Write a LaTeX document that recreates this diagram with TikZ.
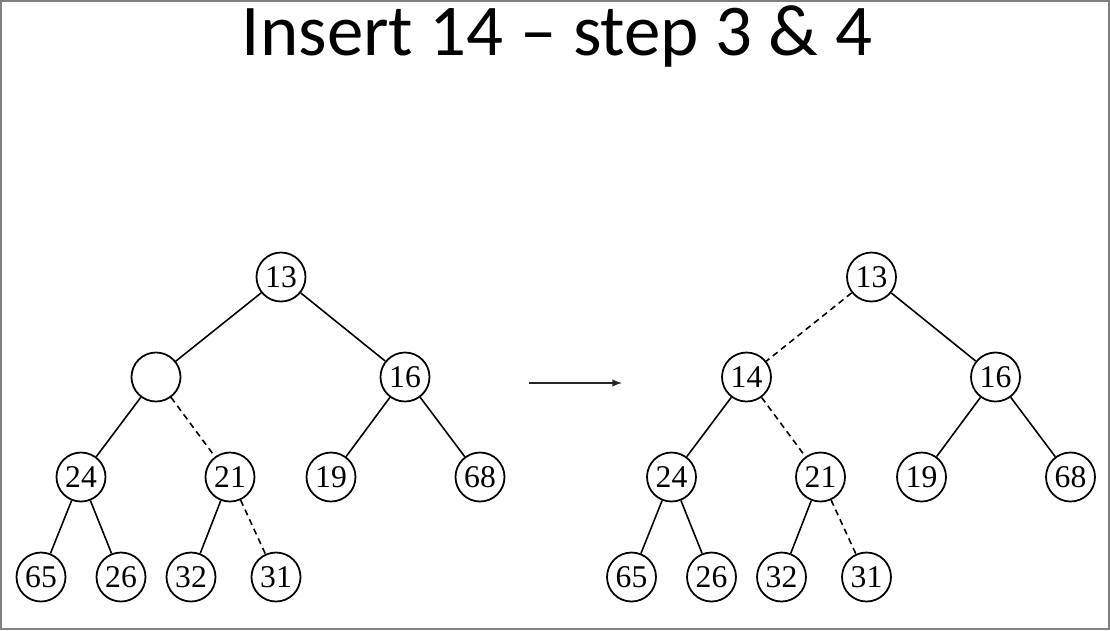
\documentclass[tikz,border=0pt]{standalone}
\usepackage{fontspec}
\setmainfont{Liberation Serif}
\newfontfamily\slidefont{Carlito}
\usepackage{tikz}

\begin{document}
\begin{tikzpicture}[
key/.style={circle, draw=black, line width=1pt, minimum size=0.98cm, inner sep=0pt, font=\fontsize{18}{18}\selectfont},
edge/.style={line width=0.9pt},
moved/.style={line width=0.9pt, dash pattern=on 3.5pt off 2.5pt},
node distance=2cm,
]
\useasboundingbox (0,0) rectangle (22.2,-12.6);
\draw[gray, line width=1pt] (0.018,-0.018) rectangle (22.182,-12.582);

%Title
\node[anchor=base, font=\slidefont\fontsize{41.5}{41.5}\selectfont] (title) at (11.14,-1.10) {Insert 14 – step 3 \& 4};

%Nodes (before)
\node[key] (l13) at (5.62,-5.54) {13};
\node[key, below of=l13, xshift=-2.5cm] (lhole) {};
\node[key, below of=l13, xshift=2.48cm] (l16) {16};
\node[key, below of=lhole, xshift=-1.5cm] (l24) {24};
\node[key, below of=lhole, xshift=1.48cm] (l21) {21};
\node[key, below of=l16, xshift=-1.48cm] (l19) {19};
\node[key, below of=l16, xshift=1.5cm] (l68) {68};
\node[key, below of=l24, xshift=-0.8cm] (l65) {65};
\node[key, below of=l24, xshift=0.8cm] (l26) {26};
\node[key, below of=l21, xshift=-0.78cm] (l32) {32};
\node[key, below of=l21, xshift=0.92cm] (l31) {31};

%Nodes (after)
\node[key] (r13) at (17.43,-5.54) {13};
\node[key, below of=r13, xshift=-2.5cm] (r14) {14};
\node[key, below of=r13, xshift=2.48cm] (r16) {16};
\node[key, below of=r14, xshift=-1.5cm] (r24) {24};
\node[key, below of=r14, xshift=1.48cm] (r21) {21};
\node[key, below of=r16, xshift=-1.48cm] (r19) {19};
\node[key, below of=r16, xshift=1.5cm] (r68) {68};
\node[key, below of=r24, xshift=-0.8cm] (r65) {65};
\node[key, below of=r24, xshift=0.8cm] (r26) {26};
\node[key, below of=r21, xshift=-0.78cm] (r32) {32};
\node[key, below of=r21, xshift=0.92cm] (r31) {31};

\node[coordinate] (arrowtail) at (10.58,-7.66) {};
\node[coordinate, right of=arrowtail, node distance=1.86cm] (arrowhead) {};

%Lines (before)
\draw[edge] (l13) -- (lhole);
\draw[edge] (l13) -- (l16);
\draw[edge] (lhole) -- (l24);
\draw[moved] (lhole) -- (l21);
\draw[edge] (l16) -- (l19);
\draw[edge] (l16) -- (l68);
\draw[edge] (l24) -- (l65);
\draw[edge] (l24) -- (l26);
\draw[edge] (l21) -- (l32);
\draw[moved] (l21) -- (l31);

%Lines (after)
\draw[moved] (r13) -- (r14);
\draw[edge] (r13) -- (r16);
\draw[edge] (r14) -- (r24);
\draw[moved] (r14) -- (r21);
\draw[edge] (r16) -- (r19);
\draw[edge] (r16) -- (r68);
\draw[edge] (r24) -- (r65);
\draw[edge] (r24) -- (r26);
\draw[edge] (r21) -- (r32);
\draw[moved] (r21) -- (r31);

\draw[->, >=latex, line width=0.9pt, black!85] (arrowtail) -- (arrowhead);

\end{tikzpicture}
\end{document}
